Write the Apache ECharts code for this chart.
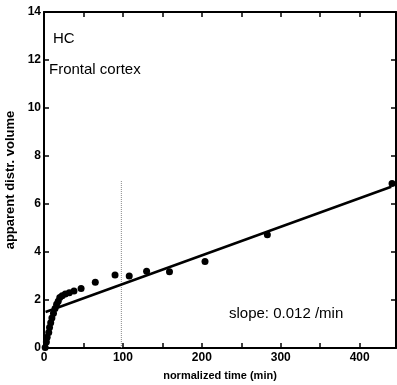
<!DOCTYPE html>
<html>
<head>
<meta charset="utf-8">
<script src="https://cdn.jsdelivr.net/npm/echarts@6/dist/echarts.min.js"></script>
<style>html,body{margin:0;padding:0;background:#fff}#c{width:397px;height:385px}</style>
</head>
<body>
<div id="c"></div>
<script>
// normalized time (min) of each measured point
var timeMin = [1.5, 3, 4, 6, 7, 8.5, 10, 12, 14, 16, 18, 20, 23, 27, 32, 38, 47, 65, 90, 108, 130, 159, 204, 283, 441];
// apparent distribution volume of each point
var distVol = [0.02, 0.25, 0.45, 0.65, 0.85, 1.05, 1.25, 1.45, 1.65, 1.82, 1.95, 2.1, 2.18, 2.25, 2.3, 2.38, 2.48, 2.74, 3.04, 3.0, 3.2, 3.18, 3.6, 4.72, 6.85];
// linear fit end points
var fitTime = [2, 440];
var fitVol = [1.5, 6.72];
// vertical dotted marker
var markTime = [98, 98];
var markVol = [0, 7];
var xTicks = [0, 100, 200, 300, 400];
var yTicks = [0, 2, 4, 6, 8, 10, 12, 14];
var texts = ['HC', 'Frontal cortex', 'slope: 0.012 /min'];

var FONT = "'Liberation Sans', Arial, sans-serif";
function zip(a, b) { return a.map(function (v, i) { return [v, b[i]]; }); }

var axisLine = { show: true, onZero: false, lineStyle: { color: '#000', width: 2 } };
var axisTick = { show: true, inside: true, length: 5, lineStyle: { color: '#000', width: 1.5 } };

var chart = echarts.init(document.getElementById('c'), null, { renderer: 'canvas' });
chart.setOption({
  animation: false,
  backgroundColor: '#fff',
  grid: { left: 44, right: 1, top: 12, bottom: 37, containLabel: false, outerBoundsMode: 'none' },
  xAxis: [{
    type: 'value', min: 0, max: 446, interval: 50, position: 'bottom',
    name: 'normalized time (min)', nameLocation: 'middle', nameGap: 22,
    nameTextStyle: { fontFamily: FONT, fontSize: 11, fontWeight: 'bold', color: '#000' },
    axisLine: axisLine, axisTick: axisTick, splitLine: { show: false },
    axisLabel: {
      margin: 4, fontFamily: FONT, fontSize: 12, fontWeight: 'bold', color: '#000',
      formatter: function (v) { return xTicks.indexOf(v) >= 0 ? String(v) : ''; }
    }
  }, {
    type: 'value', min: 0, max: 446, interval: 50, position: 'top',
    axisLine: axisLine, axisTick: axisTick, splitLine: { show: false }, axisLabel: { show: false }
  }],
  yAxis: [{
    type: 'value', min: 0, max: 14, interval: 2, position: 'left',
    name: 'apparent distr. volume', nameLocation: 'middle', nameGap: 25,
    nameTextStyle: { fontFamily: FONT, fontSize: 13, fontWeight: 'bold', color: '#000' },
    axisLine: axisLine, axisTick: axisTick, splitLine: { show: false },
    axisLabel: {
      margin: 3, fontFamily: FONT, fontSize: 12, fontWeight: 'bold', color: '#000',
      formatter: function (v) { return yTicks.indexOf(v) >= 0 ? String(v) : ''; }
    }
  }, {
    type: 'value', min: 0, max: 14, interval: 2, position: 'right',
    axisLine: axisLine, axisTick: axisTick, splitLine: { show: false }, axisLabel: { show: false }
  }],
  series: [{
    type: 'line', data: zip(markTime, markVol), symbol: 'none', silent: true,
    lineStyle: { color: '#888', width: 1, type: [1, 1] }, z: 1
  }, {
    type: 'line', data: zip(fitTime, fitVol), symbol: 'none', silent: true,
    lineStyle: { color: '#000', width: 2.5 }, z: 2
  }, {
    type: 'scatter', data: zip(timeMin, distVol), symbol: 'circle', symbolSize: 7,
    itemStyle: { color: '#000', opacity: 1 }, z: 3
  }],
  graphic: [
    { type: 'text', left: 53, top: 31, style: { text: texts[0], font: '15px ' + FONT, fill: '#000' } },
    { type: 'text', left: 49, top: 62, style: { text: texts[1], font: '15px ' + FONT, fill: '#000' } },
    { type: 'text', left: 229, top: 306, style: { text: texts[2], font: '15px ' + FONT, fill: '#000' } }
  ]
});
</script>
</body>
</html>
